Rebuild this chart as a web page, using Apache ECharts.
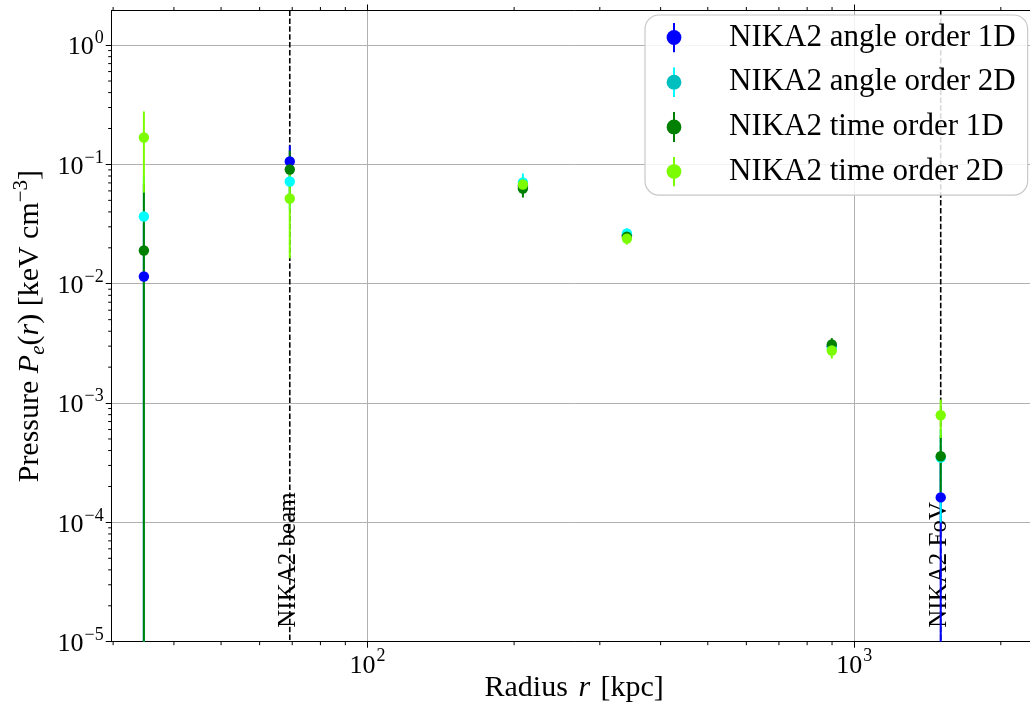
<!DOCTYPE html>
<html>
<head>
<meta charset="utf-8">
<script src="https://cdn.jsdelivr.net/npm/echarts@6/dist/echarts.min.js"></script>
<style>
html,body{margin:0;padding:0;background:#fff;overflow:hidden;}
#chart{width:1100px;height:703px;}
</style>
</head>
<body>
<div id="chart"></div>
<script>
// ---- data ----
const seriesNames = ['NIKA2 angle order 1D', 'NIKA2 angle order 2D', 'NIKA2 time order 1D', 'NIKA2 time order 2D'];
const seriesColors = ['#0000ff', '#00ffff', '#008000', '#7cfc00'];
const legendDotColors = ['#0000ff', '#00bfbf', '#008000', '#7cfc00'];
const radiusKpc = [34.7, 69.2, 208.5, 341, 899, 1505];
const angle1D = [0.0115, 0.106, 0.066, 0.0255, 0.0030, 1.62e-4];
const angle1DErr = [0.02, 0.038, 0.010, 0.0026, 0.0004, 2.0e-4];
const angle2D = [0.0366, 0.0719, 0.0705, 0.0264, 0.0029, 3.5e-4];
const angle2DErr = [0.045, 0.03, 0.0134, 0.0026, 0.0004, 2.5e-4];
const time1D = [0.0190, 0.0906, 0.0628, 0.0248, 0.00310, 3.58e-4];
const time1DErr = [0.05, 0.040, 0.010, 0.0026, 0.0004, 1.8e-4];
const time2D = [0.168, 0.0518, 0.0679, 0.0239, 0.00276, 7.9e-4];
const time2DErr = [0.11, 0.0355, 0.010, 0.0026, 0.0004, 2.8e-4];
const vlineX = [69.2, 1505];
const vlineLabels = ['NIKA2 beam', 'NIKA2 FoV'];
const xMajorTicks = [100, 1000];
const xMinorTicks = [30, 40, 50, 60, 70, 80, 90, 200, 300, 400, 500, 600, 700, 800, 900, 2000];
const yMajorTicks = [1e-5, 1e-4, 1e-3, 1e-2, 1e-1, 1e0];
const yMinorFactors = [2, 3, 4, 5, 6, 7, 8, 9];
const X_MIN = 29.8, X_MAX = 2370, Y_MIN = 1e-5, Y_MAX = 1.95;

const yMinorTicks = [];
yMajorTicks.forEach(function (d) { yMinorFactors.forEach(function (m) { if (m * d < Y_MAX) yMinorTicks.push(m * d); }); });

const FONT = 'Liberation Serif';
const valueSets = [[angle1D, angle1DErr], [angle2D, angle2DErr], [time1D, time1DErr], [time2D, time2DErr]];

function powLabel(v) {
  const e = Math.log10(v);
  const r = Math.round(e);
  if (Math.abs(e - r) > 1e-6) return '';
  const s = r < 0 ? '\u2212' + (-r) : '' + r;
  return '{b|10}{s|' + s + '}';
}
const tickRich = {
  b: { fontFamily: FONT, fontSize: 26, color: '#000', lineHeight: 31, verticalAlign: 'bottom' },
  s: { fontFamily: FONT, fontSize: 18, color: '#000', lineHeight: 31, verticalAlign: 'top', padding: [0, 0, 0, 1] }
};

function barRender(color) {
  return function (params, api) {
    const x = api.value(0), y = api.value(1), e = api.value(2);
    const lo = Math.max(y - e, Y_MIN), hi = Math.min(y + e, Y_MAX);
    const p1 = api.coord([x, lo]), p2 = api.coord([x, hi]);
    return { type: 'line', shape: { x1: p1[0], y1: p1[1], x2: p2[0], y2: p2[1] }, style: { stroke: color, lineWidth: 2 } };
  };
}

function legendIcon(k) {
  const svg = '<svg xmlns="http://www.w3.org/2000/svg" width="16" height="30" viewBox="0 0 16 30">' +
    '<line x1="8" y1="0" x2="8" y2="30" stroke="' + seriesColors[k] + '" stroke-width="2"/>' +
    '<circle cx="8" cy="15" r="7.4" fill="' + legendDotColors[k] + '"/></svg>';
  return 'image://data:image/svg+xml;charset=utf-8,' + encodeURIComponent(svg);
}

const series = [];
series.push({
  type: 'custom', name: 'vlines', silent: true, clip: false, z: 1,
  data: vlineX.map(function (x) { return [x]; }),
  encode: { x: 0 },
  renderItem: function (params, api) {
    const x = api.value(0);
    const t = api.coord([x, Y_MAX]), b = api.coord([x, Y_MIN]);
    return {
      type: 'group',
      children: [
        { type: 'line', shape: { x1: t[0], y1: t[1], x2: b[0], y2: b[1] }, style: { stroke: '#000', lineWidth: 1.6, lineDash: [5.5, 2.4] } },
        { type: 'text', x: b[0] - 1, y: b[1] - 14, rotation: Math.PI / 2,
          style: { text: vlineLabels[params.dataIndex], fontFamily: FONT, fontSize: 25, fill: '#000', align: 'left', verticalAlign: 'middle' } }
      ]
    };
  }
});
// error bars first (all below the markers, as in matplotlib)
valueSets.forEach(function (vs, k) {
  series.push({
    type: 'custom', name: seriesNames[k], clip: false, z: 2,
    itemStyle: { color: seriesColors[k] },
    data: radiusKpc.map(function (x, i) { return [x, vs[0][i], vs[1][i]]; }),
    encode: { x: 0, y: 1 },
    renderItem: barRender(seriesColors[k])
  });
});
// markers
valueSets.forEach(function (vs, k) {
  series.push({
    type: 'scatter', name: seriesNames[k], z: 3,
    symbol: 'circle', symbolSize: 10.4,
    itemStyle: { color: seriesColors[k], opacity: 1 },
    data: radiusKpc.map(function (x, i) { return [x, vs[0][i]]; })
  });
});
// minor ticks (bottom and top spines)
series.push({
  type: 'custom', name: 'xminor', silent: true, clip: false,
  data: xMinorTicks.map(function (v) { return [v, Y_MIN]; }),
  encode: { x: 0, y: 1 },
  renderItem: function (params, api) {
    const b = api.coord([api.value(0), Y_MIN]);
    const t = api.coord([api.value(0), Y_MAX]);
    return { type: 'group', children: [
      { type: 'line', shape: { x1: b[0], y1: b[1], x2: b[0], y2: b[1] + 3.5 }, style: { stroke: '#000', lineWidth: 1 } },
      { type: 'line', shape: { x1: t[0], y1: t[1], x2: t[0], y2: t[1] - 3.5 }, style: { stroke: '#000', lineWidth: 1 } }
    ] };
  }
});
series.push({
  type: 'custom', name: 'yminor', silent: true, clip: false,
  data: yMinorTicks.map(function (v) { return [X_MIN, v]; }),
  encode: { x: 0, y: 1 },
  renderItem: function (params, api) {
    const p = api.coord([X_MIN, api.value(1)]);
    return { type: 'line', shape: { x1: p[0], y1: p[1], x2: p[0] - 3.5, y2: p[1] }, style: { stroke: '#000', lineWidth: 1 } };
  }
});

const option = {
  animation: false,
  backgroundColor: '#fff',
  grid: { left: 111.7, top: 10.5, width: 925, bottom: 61.3, show: false, outerBoundsMode: 'none' },
  legend: {
    orient: 'vertical', left: 645, top: 15,
    padding: [7, 12, 8, 21], itemGap: 13.7, itemWidth: 16, itemHeight: 30,
    backgroundColor: 'rgba(255,255,255,0.85)', borderColor: '#c8c8c8', borderWidth: 1.2, borderRadius: 14,
    textStyle: { fontFamily: FONT, fontSize: 31, color: '#000', lineHeight: 30, padding: [0, 0, 0, 42] },
    data: seriesNames.map(function (n, k) { return { name: n, icon: legendIcon(k) }; })
  },
  xAxis: [{
    type: 'log', logBase: 10, min: X_MIN, max: X_MAX,
    axisLine: { show: true, onZero: false, lineStyle: { color: '#000', width: 1 } },
    axisTick: { show: true, length: 6, customValues: xMajorTicks, lineStyle: { color: '#000', width: 1 } },
    axisLabel: { customValues: xMajorTicks, formatter: powLabel, rich: tickRich, margin: 6 },
    splitLine: { show: true, lineStyle: { color: '#b0b0b0', width: 1 } },
    minorTick: { show: false },
    name: '{n|Radius }{i|r}{n| [kpc]}', nameLocation: 'middle', nameGap: 30, nameMoveOverlap: false,
    nameTextStyle: { rich: {
      n: { fontFamily: FONT, fontSize: 30, color: '#000', lineHeight: 32 },
      i: { fontFamily: FONT, fontSize: 30, fontStyle: 'italic', color: '#000', lineHeight: 32, padding: [0, 3, 0, 3] } } }
  }, {
    type: 'log', logBase: 10, min: X_MIN, max: X_MAX, position: 'top',
    axisLine: { show: true, onZero: false, lineStyle: { color: '#000', width: 1 } },
    axisTick: { show: true, length: 6, customValues: xMajorTicks, lineStyle: { color: '#000', width: 1 } },
    axisLabel: { show: false }, splitLine: { show: false }
  }],
  yAxis: {
    type: 'log', logBase: 10, min: Y_MIN, max: Y_MAX,
    axisLine: { show: true, onZero: false, lineStyle: { color: '#000', width: 1 } },
    axisTick: { show: true, length: 6, customValues: yMajorTicks, lineStyle: { color: '#000', width: 1 } },
    axisLabel: { customValues: yMajorTicks, formatter: powLabel, rich: tickRich, margin: 8 },
    splitLine: { show: true, lineStyle: { color: '#b0b0b0', width: 1 } },
    name: '{n|Pressure }{i|P}{sub|e}{n|(}{i|r}{n|) [keV cm}{sup|\u22123}{n|]}',
    nameLocation: 'middle', nameRotate: 90, nameGap: 63, nameMoveOverlap: false,
    nameTextStyle: { rich: {
      n: { fontFamily: FONT, fontSize: 30, color: '#000', lineHeight: 38, verticalAlign: 'middle' },
      i: { fontFamily: FONT, fontSize: 30, fontStyle: 'italic', color: '#000', lineHeight: 38, verticalAlign: 'middle' },
      sub: { fontFamily: FONT, fontSize: 21, fontStyle: 'italic', color: '#000', lineHeight: 38, verticalAlign: 'bottom' },
      sup: { fontFamily: FONT, fontSize: 21, color: '#000', lineHeight: 38, verticalAlign: 'top' }
    } }
  },
  series: series
};
const chart = echarts.init(document.getElementById('chart'), null, { renderer: 'canvas' });
chart.setOption(option);
</script>
</body>
</html>
